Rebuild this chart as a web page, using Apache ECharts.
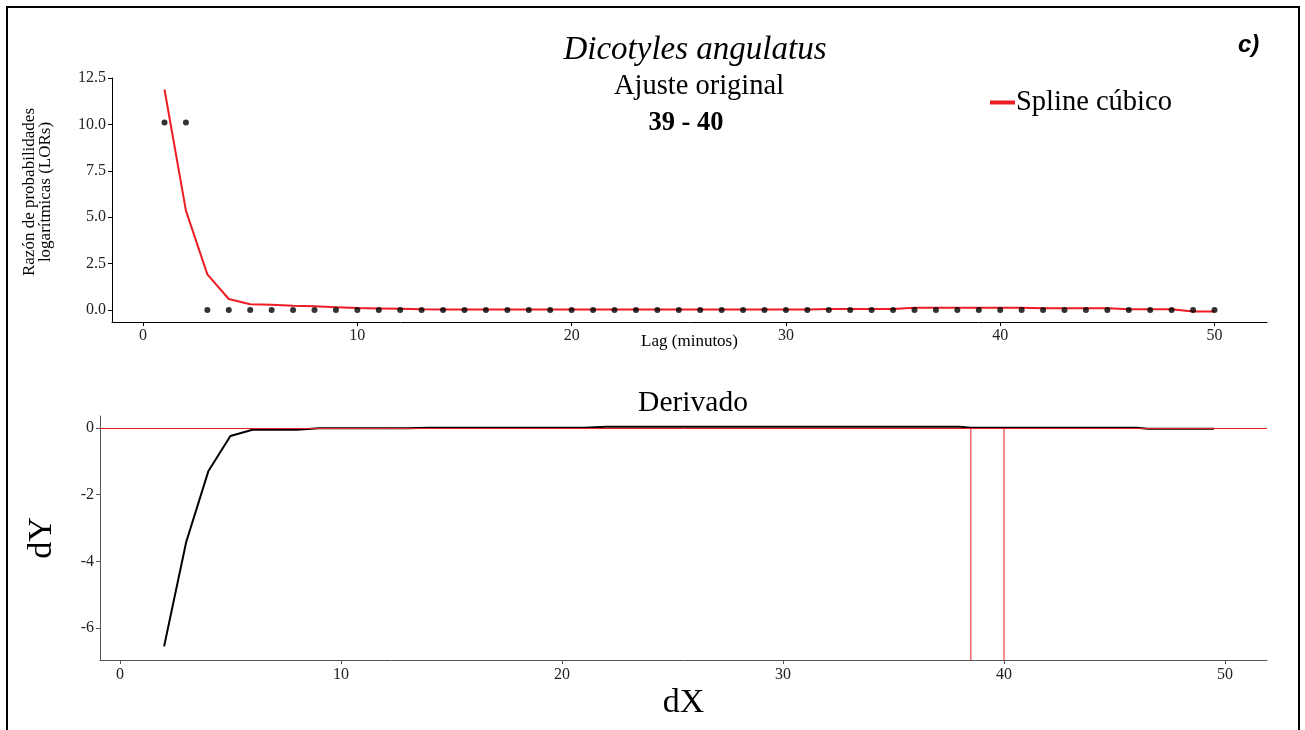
<!DOCTYPE html>
<html>
<head>
<meta charset="utf-8">
<script src="https://cdn.jsdelivr.net/npm/echarts@6/dist/echarts.min.js"></script>
<style>
  html, body { margin: 0; padding: 0; background: #fff; }
  #chart { width: 1305px; height: 730px; }
</style>
</head>
<body>
<div id="chart"></div>
<script>
// panel superior: datos observados y spline cúbico
const lag = Array.from({length: 50}, (_, i) => i + 1)
const lorObs = [10.1, 10.1, 0, 0, 0, 0, 0, 0, 0, 0,
  0, 0, 0, 0, 0, 0, 0, 0, 0, 0,
  0, 0, 0, 0, 0, 0, 0, 0, 0, 0,
  0, 0, 0, 0, 0, 0, 0, 0, 0, 0,
  0, 0, 0, 0, 0, 0, 0, 0, 0, 0]
const splineFit = [11.88, 5.35, 1.92, 0.59, 0.31, 0.28, 0.23, 0.2, 0.15, 0.1,
  0.08, 0.06, 0.04, 0.03, 0.03, 0.02, 0.02, 0.02, 0.02, 0.02,
  0.02, 0.02, 0.02, 0.02, 0.02, 0.02, 0.02, 0.02, 0.02, 0.02,
  0.02, 0.05, 0.05, 0.05, 0.05, 0.12, 0.12, 0.12, 0.12, 0.12,
  0.12, 0.09, 0.09, 0.09, 0.09, 0.04, 0.04, 0.04, -0.09, -0.09]

// panel inferior: derivada
const derivX = [2, 3, 4, 5, 6, 7, 8, 9, 10, 11, 12, 13, 14, 15, 16, 17, 18, 19, 20, 21, 22,
  23, 24, 25, 26, 27, 28, 29, 30, 31, 32, 33, 34, 35, 36, 37, 38, 38.5, 39, 40,
  41, 42, 43, 44, 45, 46, 46.5, 47, 48, 49, 49.5]
const derivY = [-6.55, -3.42, -1.3, -0.24, -0.05, -0.05, -0.05, -0.01, -0.01, -0.01, -0.01, -0.01, 0.01, 0.01, 0.01, 0.01, 0.01, 0.01, 0.01, 0.01, 0.04,
  0.04, 0.04, 0.04, 0.04, 0.04, 0.04, 0.04, 0.04, 0.04, 0.04, 0.04, 0.04, 0.04, 0.04, 0.04, 0.04, 0.01, 0.01, 0.01,
  0.01, 0.01, 0.01, 0.01, 0.01, 0.01, -0.02, -0.02, -0.02, -0.02, -0.02]
const cutPoints = [38.5, 40]

const topYTicks = [0, 2.5, 5, 7.5, 10, 12.5]
const xTicks = [0, 10, 20, 30, 40, 50]
const botYTicks = [0, -2, -4, -6]

const serif = '"Liberation Serif", "DejaVu Serif", serif'
const red = '#ee1c25'
const botMin = -6.96

const chart = echarts.init(document.getElementById('chart'))

const axisCommon = (color, ticks, margin) => ({
  axisLine: {show: true, onZero: false, lineStyle: {color, width: 1}},
  axisTick: {show: true, length: 4, lineStyle: {color}, customValues: ticks},
  splitLine: {show: false},
  axisLabel: {color: '#222', fontFamily: serif, fontSize: 16, margin, customValues: ticks}
})

// líneas verticales de los puntos de corte, desde 0 hasta el borde inferior
const cutSeries = cutPoints.map(c => ({
  name: 'corte ' + c, type: 'line', xAxisIndex: 1, yAxisIndex: 1,
  data: [[c, 0], [c, botMin]],
  showSymbol: false, silent: true,
  lineStyle: {color: red, width: 1}, itemStyle: {color: red}, z: 2
}))

chart.setOption({
  backgroundColor: '#fff',
  animation: false,
  title: [
    {text: 'Dicotyles angulatus', left: 690, top: 29, textAlign: 'center',
      textStyle: {fontFamily: serif, fontStyle: 'italic', fontWeight: 'normal', fontSize: 33, color: '#000'}},
    {text: 'Ajuste original', left: 694, top: 67, textAlign: 'center',
      textStyle: {fontFamily: serif, fontWeight: 'normal', fontSize: 28.5, color: '#000'}},
    {text: '39 - 40', left: 681, top: 105, textAlign: 'center',
      textStyle: {fontFamily: serif, fontWeight: 'bold', fontSize: 26.5, color: '#000'}},
    {text: 'Derivado', left: 688, top: 383, textAlign: 'center',
      textStyle: {fontFamily: serif, fontWeight: 'normal', fontSize: 29.5, color: '#000'}}
  ],
  legend: {
    data: ['Spline cúbico'],
    left: 985, top: 83,
    itemWidth: 25, itemHeight: 4, itemGap: 0,
    icon: 'rect',
    textStyle: {fontFamily: serif, fontSize: 28.5, color: '#000', padding: [0, 0, 0, -4]}
  },
  graphic: [
    {type: 'rect', shape: {x: 7, y: 7, width: 1292, height: 740},
      style: {fill: 'none', stroke: '#000', lineWidth: 2}, silent: true},
    {type: 'text', left: 1238, top: 33,
      style: {text: 'c)', font: 'italic bold 24px "Liberation Sans", Arial, sans-serif', fill: '#000'}}
  ],
  grid: [
    {left: 112, right: 38, top: 78, bottom: 408},
    {left: 100, right: 38, top: 416, bottom: 70}
  ],
  xAxis: [
    {type: 'value', gridIndex: 0, min: -1.45, max: 52.45, ...axisCommon('#000', xTicks, 6),
      name: 'Lag (minutos)', nameLocation: 'middle', nameGap: 11, nameMoveOverlap: false,
      nameTextStyle: {fontFamily: serif, fontSize: 17, color: '#000'}},
    {type: 'value', gridIndex: 1, min: -0.9, max: 51.9, ...axisCommon('#555', xTicks, 7),
      name: 'dX', nameLocation: 'middle', nameGap: 26,
      nameTextStyle: {fontFamily: serif, fontSize: 34, color: '#000'}}
  ],
  yAxis: [
    {type: 'value', gridIndex: 0, min: -0.65, max: 12.5,
      ...axisCommon('#000', topYTicks, 6),
      axisLabel: {color: '#222', fontFamily: serif, fontSize: 16, margin: 6, customValues: topYTicks,
        formatter: v => Number(v).toFixed(1)},
      name: 'Razón de probabilidades\nlogarítmicas (LORs)', nameLocation: 'middle', nameGap: 58,
      nameTextStyle: {fontFamily: serif, fontSize: 17, color: '#000', lineHeight: 16, padding: [0, 0, 0, 16]}},
    {type: 'value', gridIndex: 1, min: botMin, max: 0.36, ...axisCommon('#555', botYTicks, 6),
      name: 'dY', nameLocation: 'middle', nameGap: 41,
      nameTextStyle: {fontFamily: serif, fontSize: 34, color: '#000'}}
  ],
  series: [
    {
      name: 'Spline cúbico', type: 'line', xAxisIndex: 0, yAxisIndex: 0,
      data: lag.map((x, i) => [x, splineFit[i]]),
      showSymbol: false, lineStyle: {color: red, width: 2}, itemStyle: {color: red}, z: 2
    },
    {
      name: 'Observado', type: 'scatter', xAxisIndex: 0, yAxisIndex: 0,
      data: lag.map((x, i) => [x, lorObs[i]]),
      symbolSize: 6, itemStyle: {color: '#000'}, z: 3
    },
    {
      name: 'Derivada', type: 'line', xAxisIndex: 1, yAxisIndex: 1,
      data: derivX.map((x, i) => [x, derivY[i]]),
      showSymbol: false, lineStyle: {color: '#000', width: 2}, itemStyle: {color: '#000'}, z: 3,
      markLine: {
        silent: true, symbol: 'none', animation: false,
        label: {show: false},
        lineStyle: {color: red, width: 1, type: 'solid', opacity: 1},
        data: [{yAxis: 0}]
      }
    },
    ...cutSeries
  ]
})
</script>
</body>
</html>
